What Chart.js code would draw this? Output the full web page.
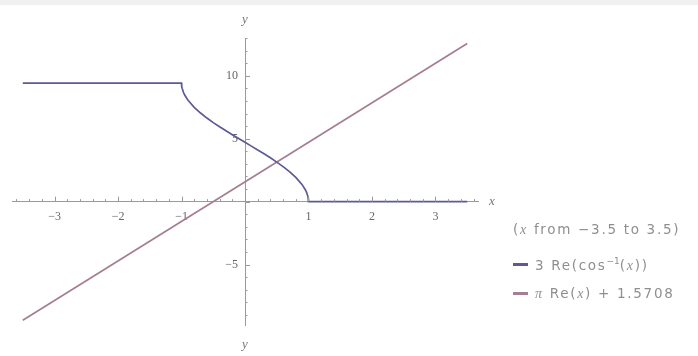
<!DOCTYPE html>
<html>
<head>
<meta charset="utf-8">
<script src="https://cdn.jsdelivr.net/npm/chart.js@4.4.1/dist/chart.umd.min.js"></script>
<style>
  html, body { margin: 0; padding: 0; background: #fff; }
  #wrap { position: relative; width: 698px; height: 356px; overflow: hidden; }
  #band { position: absolute; left: 0; top: 0; width: 698px; height: 5px; background: #f1f1f1; }
  canvas { position: absolute; left: 0; top: 0; }
  .leg { position: absolute; left: 513px; font-family: "DejaVu Sans", sans-serif; font-size: 13.5px; letter-spacing: 1.7px; color: #8f8f8f; white-space: nowrap; line-height: 16px; }
  .sw { display: inline-block; width: 15px; height: 3px; vertical-align: middle; margin-right: 7px; position: relative; top: -1px; }
  .leg i { font-family: "Liberation Serif", serif; font-size: 14px; }
  .leg sup { font-size: 9px; letter-spacing: 0; }
</style>
</head>
<body>
<div id="wrap">
  <div id="band"></div>
  <canvas id="c" width="698" height="356"></canvas>
  <div class="leg" style="top:221px">(<i>x</i> from −3.5 to 3.5)</div>
  <div class="leg" style="top:253px"><span class="sw" style="background:#5d5a95"></span>3 Re(cos<sup>−1</sup>(<i>x</i>))</div>
  <div class="leg" style="top:285px"><span class="sw" style="background:#a57e93"></span><i>π</i> Re(<i>x</i>) + 1.5708</div>
</div>
<script>
// 3 Re(arccos x), sampled along x
const acosX = [-3.5, -1, -0.999, -0.995, -0.99, -0.97, -0.95, -0.9, -0.8, -0.7, -0.6, -0.5, -0.4, -0.3, -0.2, -0.1,
               0, 0.1, 0.2, 0.3, 0.4, 0.5, 0.6, 0.7, 0.8, 0.9, 0.95, 0.97, 0.99, 0.995, 0.999, 1, 3.5];
const acosY = [9.42, 9.42, 9.29, 9.12, 9.00, 8.69, 8.47, 8.07, 7.49, 7.04, 6.64, 6.28, 5.95, 5.63, 5.32, 5.01,
               4.71, 4.41, 4.11, 3.80, 3.48, 3.14, 2.78, 2.39, 1.93, 1.35, 0.95, 0.74, 0.42, 0.30, 0.13, 0, 0];
// π Re(x) + 1.5708 (straight line, end points)
const lineX = [-3.5, 3.5];
const lineY = [-9.42, 12.57];
// axis tick labels
const xTickLabels = [-3, -2, -1, 1, 2, 3];
const yTickLabels = [-5, 5, 10];

const toPts = (xs, ys) => xs.map((x, i) => ({x, y: ys[i]}));
const isInt = v => Math.abs(v - Math.round(v)) < 1e-6;
const near = (v, list) => list.find(t => Math.abs(t - v) < 1e-6);
const fmt = v => (v < 0 ? '\u2212' + Math.abs(v) : String(v));

// tick marks pointing to the positive side, y labels left of the axis, axis names
const axisDecor = {
  id: 'axisDecor',
  afterDraw(chart) {
    const {ctx} = chart;
    const xs = chart.scales.x, ys = chart.scales.y;
    const x0 = xs.getPixelForValue(0), y0 = ys.getPixelForValue(0);
    ctx.save();
    ctx.strokeStyle = '#9a9a9a';
    ctx.lineWidth = 1;
    xs.ticks.forEach(t => {
      const px = Math.round(xs.getPixelForValue(t.value)) + 0.5;
      const len = isInt(t.value) ? 5 : 2.5;
      ctx.beginPath(); ctx.moveTo(px, y0); ctx.lineTo(px, y0 - len); ctx.stroke();
    });
    ys.ticks.forEach(t => {
      const py = Math.round(ys.getPixelForValue(t.value)) + 0.5;
      const len = (Math.abs(t.value) % 5 < 1e-6) ? 5 : 2.5;
      ctx.beginPath(); ctx.moveTo(x0, py); ctx.lineTo(x0 + len, py); ctx.stroke();
    });
    ctx.fillStyle = '#666';
    ctx.font = '12px "Liberation Serif", serif';
    ctx.textAlign = 'right';
    ctx.textBaseline = 'middle';
    yTickLabels.forEach(v => ctx.fillText(fmt(v), x0 - 7, ys.getPixelForValue(v)));
    ctx.fillStyle = '#777';
    ctx.font = 'italic 13px "Liberation Serif", serif';
    ctx.textAlign = 'center';
    ctx.fillText('x', xs.right + 14, y0);
    ctx.fillText('y', x0, ys.top - 18);
    ctx.fillText('y', x0, ys.bottom + 20);
    ctx.restore();
  }
};

new Chart(document.getElementById('c'), {
  type: 'scatter',
  data: {
    datasets: [
      {
        label: '3 Re(cos⁻¹(x))',
        data: toPts(acosX, acosY),
        showLine: true,
        borderColor: '#5d5a95',
        borderWidth: 1.7,
        pointRadius: 0,
        tension: 0
      },
      {
        label: 'π Re(x) + 1.5708',
        data: toPts(lineX, lineY),
        showLine: true,
        borderColor: '#a57e93',
        borderWidth: 1.7,
        pointRadius: 0
      }
    ]
  },
  options: {
    responsive: false,
    animation: false,
    layout: { padding: { left: 12, right: 220, top: 38, bottom: 31 } },
    plugins: { legend: { display: false }, tooltip: { enabled: false } },
    scales: {
      x: {
        type: 'linear',
        position: { y: 0 },
        min: -3.67, max: 3.67,
        border: { display: true, color: '#9a9a9a', width: 1 },
        grid: { display: false, drawTicks: false },
        ticks: {
          stepSize: 0.2,
          autoSkip: false,
          includeBounds: false,
          maxRotation: 0,
          padding: 8,
          color: '#666',
          font: { family: '"Liberation Serif", serif', size: 12 },
          callback: v => { const m = near(v, xTickLabels); return m !== undefined ? fmt(m) : ''; }
        }
      },
      y: {
        type: 'linear',
        position: { x: 0 },
        min: -9.8, max: 13,
        border: { display: true, color: '#9a9a9a', width: 1 },
        grid: { display: false, drawTicks: false },
        ticks: {
          stepSize: 1,
          autoSkip: false,
          includeBounds: false,
          display: false
        }
      }
    }
  },
  plugins: [axisDecor]
});
</script>
</body>
</html>
